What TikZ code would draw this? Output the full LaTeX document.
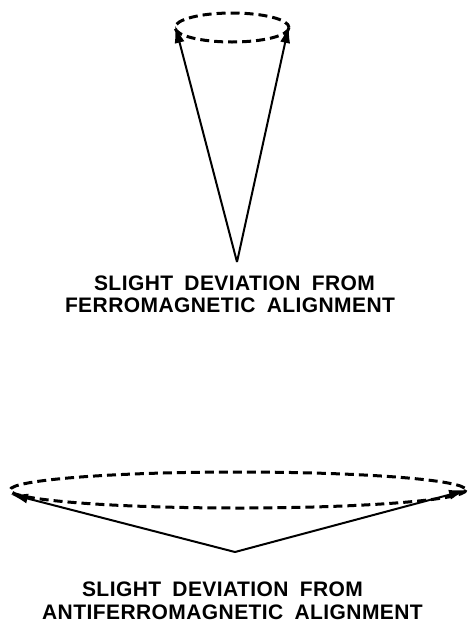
\documentclass[tikz,border=0pt]{standalone}
\usepackage{fontspec}
\setmainfont{Liberation Sans}[WordSpace={1.8},LetterSpace=2]
\usetikzlibrary{arrows.meta}
\begin{document}
\begin{tikzpicture}[x=1pt,y=-1pt,
  spin/.style={line width=2pt,-{Latex[length=18pt,width=10pt]}},
  orbit/.style={line width=3pt,dash pattern=on 9pt off 5pt},
  caption/.style={anchor=base,font=\bfseries\fontsize{21}{22}\selectfont,inner sep=0pt}]
\useasboundingbox (0,0) rectangle (469,622);
% top cone
\draw[orbit] (232,27.5) ellipse [x radius=57, y radius=14.5];
\coordinate (apexA) at (237,262);
\coordinate (tipAL) at (175,25);
\coordinate (tipAR) at (289,25);
\draw[spin] (apexA) -- (tipAL);
\draw[spin] (apexA) -- (tipAR);
\node[caption] (capA1) at (234.5,290) {SLIGHT DEVIATION FROM};
\node[caption] (capA2) at (230,312) {FERROMAGNETIC ALIGNMENT};
% bottom cone
\draw[orbit] (238,490) ellipse [x radius=228, y radius=18];
\coordinate (apexB) at (235,552);
\coordinate (tipBL) at (10,494);
\coordinate (tipBR) at (467,490);
\draw[spin] (apexB) -- (tipBL);
\draw[spin] (apexB) -- (tipBR);
\node[caption] (capB1) at (222.5,596) {SLIGHT DEVIATION FROM};
\node[caption] (capB2) at (232.5,619) {ANTIFERROMAGNETIC ALIGNMENT};
\end{tikzpicture}
\end{document}
